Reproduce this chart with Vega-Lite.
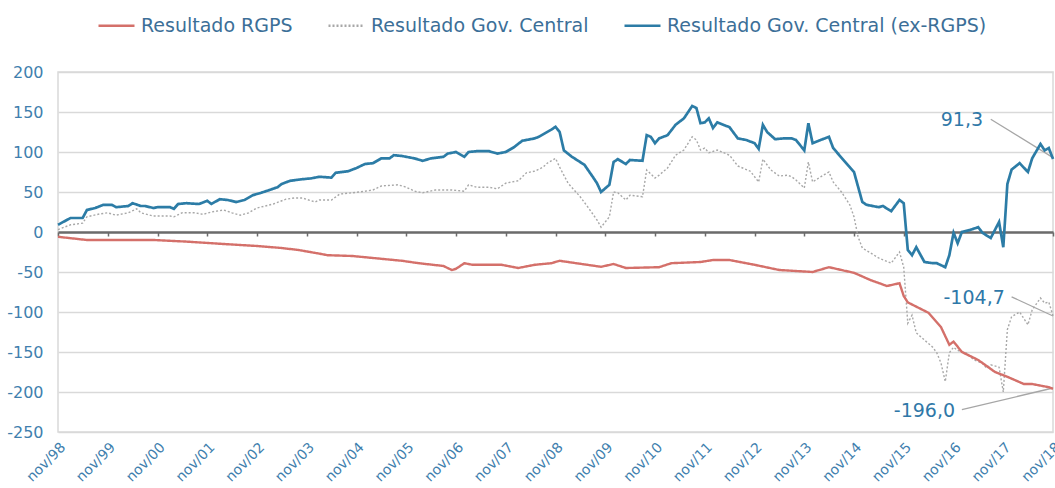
{
  "$schema": "https://vega.github.io/schema/vega-lite/v6.json",
  "width": 995,
  "height": 360,
  "autosize": {"type": "none"},
  "padding": {"left": 58, "top": 72, "right": 2, "bottom": 56},
  "background": "white",
  "config": {
    "font": "DejaVu Sans",
    "view": {"stroke": "#d9d9d9", "strokeWidth": 1.5},
    "axisY": {"labelFont": "DejaVu Sans", "labelFontSize": 16, "labelColor": "#3f7fae", "gridColor": "#d9d9d9", "gridWidth": 1.5, "domain": false, "ticks": false, "labelPadding": 15, "labelOverlap": false, "labelBound": false, "title": null,
      "labelExpr": "datum.value < 0 ? '-' + abs(datum.value) : '' + datum.value"},
    "legend": {"labelFont": "DejaVu Sans", "symbolStrokeWidth": 2.6}
  },
  "datasets": {
    "series": [
      {"d":"1998-11-01","s":"Resultado Gov. Central (ex-RGPS)","v":9},
      {"d":"1999-02-01","s":"Resultado Gov. Central (ex-RGPS)","v":17.5},
      {"d":"1999-05-01","s":"Resultado Gov. Central (ex-RGPS)","v":17.5},
      {"d":"1999-06-01","s":"Resultado Gov. Central (ex-RGPS)","v":27.5},
      {"d":"1999-08-01","s":"Resultado Gov. Central (ex-RGPS)","v":30},
      {"d":"1999-10-01","s":"Resultado Gov. Central (ex-RGPS)","v":34},
      {"d":"1999-12-01","s":"Resultado Gov. Central (ex-RGPS)","v":34},
      {"d":"2000-01-01","s":"Resultado Gov. Central (ex-RGPS)","v":31},
      {"d":"2000-04-01","s":"Resultado Gov. Central (ex-RGPS)","v":32.5},
      {"d":"2000-05-01","s":"Resultado Gov. Central (ex-RGPS)","v":36},
      {"d":"2000-07-01","s":"Resultado Gov. Central (ex-RGPS)","v":32.5},
      {"d":"2000-08-01","s":"Resultado Gov. Central (ex-RGPS)","v":32.5},
      {"d":"2000-10-01","s":"Resultado Gov. Central (ex-RGPS)","v":30},
      {"d":"2000-11-01","s":"Resultado Gov. Central (ex-RGPS)","v":31},
      {"d":"2001-02-01","s":"Resultado Gov. Central (ex-RGPS)","v":31},
      {"d":"2001-03-01","s":"Resultado Gov. Central (ex-RGPS)","v":29},
      {"d":"2001-04-01","s":"Resultado Gov. Central (ex-RGPS)","v":35},
      {"d":"2001-06-01","s":"Resultado Gov. Central (ex-RGPS)","v":36},
      {"d":"2001-09-01","s":"Resultado Gov. Central (ex-RGPS)","v":35},
      {"d":"2001-11-01","s":"Resultado Gov. Central (ex-RGPS)","v":39},
      {"d":"2001-12-01","s":"Resultado Gov. Central (ex-RGPS)","v":35},
      {"d":"2002-02-01","s":"Resultado Gov. Central (ex-RGPS)","v":41},
      {"d":"2002-04-01","s":"Resultado Gov. Central (ex-RGPS)","v":40},
      {"d":"2002-06-01","s":"Resultado Gov. Central (ex-RGPS)","v":37.5},
      {"d":"2002-08-01","s":"Resultado Gov. Central (ex-RGPS)","v":40},
      {"d":"2002-10-01","s":"Resultado Gov. Central (ex-RGPS)","v":46},
      {"d":"2002-12-01","s":"Resultado Gov. Central (ex-RGPS)","v":49},
      {"d":"2003-02-01","s":"Resultado Gov. Central (ex-RGPS)","v":52.5},
      {"d":"2003-04-01","s":"Resultado Gov. Central (ex-RGPS)","v":56},
      {"d":"2003-05-01","s":"Resultado Gov. Central (ex-RGPS)","v":60},
      {"d":"2003-07-01","s":"Resultado Gov. Central (ex-RGPS)","v":64},
      {"d":"2003-10-01","s":"Resultado Gov. Central (ex-RGPS)","v":66},
      {"d":"2003-12-01","s":"Resultado Gov. Central (ex-RGPS)","v":67},
      {"d":"2004-02-01","s":"Resultado Gov. Central (ex-RGPS)","v":69},
      {"d":"2004-05-01","s":"Resultado Gov. Central (ex-RGPS)","v":68},
      {"d":"2004-06-01","s":"Resultado Gov. Central (ex-RGPS)","v":74},
      {"d":"2004-09-01","s":"Resultado Gov. Central (ex-RGPS)","v":76},
      {"d":"2004-11-01","s":"Resultado Gov. Central (ex-RGPS)","v":80},
      {"d":"2005-01-01","s":"Resultado Gov. Central (ex-RGPS)","v":85},
      {"d":"2005-03-01","s":"Resultado Gov. Central (ex-RGPS)","v":86},
      {"d":"2005-05-01","s":"Resultado Gov. Central (ex-RGPS)","v":92},
      {"d":"2005-07-01","s":"Resultado Gov. Central (ex-RGPS)","v":92},
      {"d":"2005-08-01","s":"Resultado Gov. Central (ex-RGPS)","v":96},
      {"d":"2005-10-01","s":"Resultado Gov. Central (ex-RGPS)","v":95},
      {"d":"2006-01-01","s":"Resultado Gov. Central (ex-RGPS)","v":92},
      {"d":"2006-03-01","s":"Resultado Gov. Central (ex-RGPS)","v":89},
      {"d":"2006-05-01","s":"Resultado Gov. Central (ex-RGPS)","v":92},
      {"d":"2006-08-01","s":"Resultado Gov. Central (ex-RGPS)","v":94},
      {"d":"2006-09-01","s":"Resultado Gov. Central (ex-RGPS)","v":98},
      {"d":"2006-11-01","s":"Resultado Gov. Central (ex-RGPS)","v":100},
      {"d":"2007-01-01","s":"Resultado Gov. Central (ex-RGPS)","v":94},
      {"d":"2007-02-01","s":"Resultado Gov. Central (ex-RGPS)","v":100},
      {"d":"2007-04-01","s":"Resultado Gov. Central (ex-RGPS)","v":101},
      {"d":"2007-07-01","s":"Resultado Gov. Central (ex-RGPS)","v":101},
      {"d":"2007-09-01","s":"Resultado Gov. Central (ex-RGPS)","v":98},
      {"d":"2007-11-01","s":"Resultado Gov. Central (ex-RGPS)","v":100},
      {"d":"2008-01-01","s":"Resultado Gov. Central (ex-RGPS)","v":106},
      {"d":"2008-03-01","s":"Resultado Gov. Central (ex-RGPS)","v":114},
      {"d":"2008-06-01","s":"Resultado Gov. Central (ex-RGPS)","v":117},
      {"d":"2008-07-01","s":"Resultado Gov. Central (ex-RGPS)","v":119},
      {"d":"2008-10-01","s":"Resultado Gov. Central (ex-RGPS)","v":128},
      {"d":"2008-11-01","s":"Resultado Gov. Central (ex-RGPS)","v":131.5},
      {"d":"2008-12-01","s":"Resultado Gov. Central (ex-RGPS)","v":125},
      {"d":"2009-01-01","s":"Resultado Gov. Central (ex-RGPS)","v":102},
      {"d":"2009-03-01","s":"Resultado Gov. Central (ex-RGPS)","v":94},
      {"d":"2009-06-01","s":"Resultado Gov. Central (ex-RGPS)","v":84},
      {"d":"2009-08-01","s":"Resultado Gov. Central (ex-RGPS)","v":69},
      {"d":"2009-09-01","s":"Resultado Gov. Central (ex-RGPS)","v":61},
      {"d":"2009-10-01","s":"Resultado Gov. Central (ex-RGPS)","v":50},
      {"d":"2009-12-01","s":"Resultado Gov. Central (ex-RGPS)","v":59},
      {"d":"2010-01-01","s":"Resultado Gov. Central (ex-RGPS)","v":87.5},
      {"d":"2010-02-01","s":"Resultado Gov. Central (ex-RGPS)","v":91},
      {"d":"2010-04-01","s":"Resultado Gov. Central (ex-RGPS)","v":85},
      {"d":"2010-05-01","s":"Resultado Gov. Central (ex-RGPS)","v":90},
      {"d":"2010-08-01","s":"Resultado Gov. Central (ex-RGPS)","v":89},
      {"d":"2010-09-01","s":"Resultado Gov. Central (ex-RGPS)","v":121},
      {"d":"2010-10-01","s":"Resultado Gov. Central (ex-RGPS)","v":119},
      {"d":"2010-11-01","s":"Resultado Gov. Central (ex-RGPS)","v":111},
      {"d":"2010-12-01","s":"Resultado Gov. Central (ex-RGPS)","v":117},
      {"d":"2011-02-01","s":"Resultado Gov. Central (ex-RGPS)","v":121},
      {"d":"2011-04-01","s":"Resultado Gov. Central (ex-RGPS)","v":134},
      {"d":"2011-06-01","s":"Resultado Gov. Central (ex-RGPS)","v":142},
      {"d":"2011-08-01","s":"Resultado Gov. Central (ex-RGPS)","v":157.5},
      {"d":"2011-09-01","s":"Resultado Gov. Central (ex-RGPS)","v":155},
      {"d":"2011-10-01","s":"Resultado Gov. Central (ex-RGPS)","v":136},
      {"d":"2011-11-01","s":"Resultado Gov. Central (ex-RGPS)","v":137},
      {"d":"2011-12-01","s":"Resultado Gov. Central (ex-RGPS)","v":142},
      {"d":"2012-01-01","s":"Resultado Gov. Central (ex-RGPS)","v":130},
      {"d":"2012-02-01","s":"Resultado Gov. Central (ex-RGPS)","v":137},
      {"d":"2012-05-01","s":"Resultado Gov. Central (ex-RGPS)","v":131},
      {"d":"2012-07-01","s":"Resultado Gov. Central (ex-RGPS)","v":117},
      {"d":"2012-09-01","s":"Resultado Gov. Central (ex-RGPS)","v":115},
      {"d":"2012-11-01","s":"Resultado Gov. Central (ex-RGPS)","v":111},
      {"d":"2012-12-01","s":"Resultado Gov. Central (ex-RGPS)","v":104},
      {"d":"2013-01-01","s":"Resultado Gov. Central (ex-RGPS)","v":134},
      {"d":"2013-02-01","s":"Resultado Gov. Central (ex-RGPS)","v":125},
      {"d":"2013-04-01","s":"Resultado Gov. Central (ex-RGPS)","v":116},
      {"d":"2013-06-01","s":"Resultado Gov. Central (ex-RGPS)","v":117},
      {"d":"2013-08-01","s":"Resultado Gov. Central (ex-RGPS)","v":117},
      {"d":"2013-09-01","s":"Resultado Gov. Central (ex-RGPS)","v":115},
      {"d":"2013-11-01","s":"Resultado Gov. Central (ex-RGPS)","v":102},
      {"d":"2013-12-01","s":"Resultado Gov. Central (ex-RGPS)","v":136},
      {"d":"2014-01-01","s":"Resultado Gov. Central (ex-RGPS)","v":111},
      {"d":"2014-03-01","s":"Resultado Gov. Central (ex-RGPS)","v":115},
      {"d":"2014-05-01","s":"Resultado Gov. Central (ex-RGPS)","v":119},
      {"d":"2014-06-01","s":"Resultado Gov. Central (ex-RGPS)","v":105},
      {"d":"2014-07-01","s":"Resultado Gov. Central (ex-RGPS)","v":99},
      {"d":"2014-10-01","s":"Resultado Gov. Central (ex-RGPS)","v":81},
      {"d":"2014-11-01","s":"Resultado Gov. Central (ex-RGPS)","v":75},
      {"d":"2015-01-01","s":"Resultado Gov. Central (ex-RGPS)","v":37.5},
      {"d":"2015-02-01","s":"Resultado Gov. Central (ex-RGPS)","v":34},
      {"d":"2015-05-01","s":"Resultado Gov. Central (ex-RGPS)","v":31},
      {"d":"2015-06-01","s":"Resultado Gov. Central (ex-RGPS)","v":32.5},
      {"d":"2015-08-01","s":"Resultado Gov. Central (ex-RGPS)","v":26},
      {"d":"2015-10-01","s":"Resultado Gov. Central (ex-RGPS)","v":40},
      {"d":"2015-11-01","s":"Resultado Gov. Central (ex-RGPS)","v":36},
      {"d":"2015-12-01","s":"Resultado Gov. Central (ex-RGPS)","v":-22.5},
      {"d":"2016-01-01","s":"Resultado Gov. Central (ex-RGPS)","v":-29},
      {"d":"2016-02-01","s":"Resultado Gov. Central (ex-RGPS)","v":-19},
      {"d":"2016-04-01","s":"Resultado Gov. Central (ex-RGPS)","v":-37.5},
      {"d":"2016-06-01","s":"Resultado Gov. Central (ex-RGPS)","v":-39},
      {"d":"2016-07-01","s":"Resultado Gov. Central (ex-RGPS)","v":-39},
      {"d":"2016-09-01","s":"Resultado Gov. Central (ex-RGPS)","v":-44},
      {"d":"2016-10-01","s":"Resultado Gov. Central (ex-RGPS)","v":-29},
      {"d":"2016-11-01","s":"Resultado Gov. Central (ex-RGPS)","v":-1},
      {"d":"2016-12-01","s":"Resultado Gov. Central (ex-RGPS)","v":-14},
      {"d":"2017-01-01","s":"Resultado Gov. Central (ex-RGPS)","v":0},
      {"d":"2017-03-01","s":"Resultado Gov. Central (ex-RGPS)","v":2.5},
      {"d":"2017-05-01","s":"Resultado Gov. Central (ex-RGPS)","v":6},
      {"d":"2017-06-01","s":"Resultado Gov. Central (ex-RGPS)","v":-1},
      {"d":"2017-08-01","s":"Resultado Gov. Central (ex-RGPS)","v":-7.5},
      {"d":"2017-10-01","s":"Resultado Gov. Central (ex-RGPS)","v":12.5},
      {"d":"2017-11-01","s":"Resultado Gov. Central (ex-RGPS)","v":-19},
      {"d":"2017-12-01","s":"Resultado Gov. Central (ex-RGPS)","v":60},
      {"d":"2018-01-01","s":"Resultado Gov. Central (ex-RGPS)","v":78},
      {"d":"2018-03-01","s":"Resultado Gov. Central (ex-RGPS)","v":86},
      {"d":"2018-05-01","s":"Resultado Gov. Central (ex-RGPS)","v":75},
      {"d":"2018-06-01","s":"Resultado Gov. Central (ex-RGPS)","v":92},
      {"d":"2018-08-01","s":"Resultado Gov. Central (ex-RGPS)","v":110},
      {"d":"2018-09-01","s":"Resultado Gov. Central (ex-RGPS)","v":102},
      {"d":"2018-10-01","s":"Resultado Gov. Central (ex-RGPS)","v":105},
      {"d":"2018-11-01","s":"Resultado Gov. Central (ex-RGPS)","v":91.3},

      {"d":"1998-11-01","s":"Resultado Gov. Central","v":3},
      {"d":"1999-02-01","s":"Resultado Gov. Central","v":9},
      {"d":"1999-05-01","s":"Resultado Gov. Central","v":11},
      {"d":"1999-06-01","s":"Resultado Gov. Central","v":19},
      {"d":"1999-09-01","s":"Resultado Gov. Central","v":22.5},
      {"d":"1999-11-01","s":"Resultado Gov. Central","v":24},
      {"d":"2000-01-01","s":"Resultado Gov. Central","v":21},
      {"d":"2000-04-01","s":"Resultado Gov. Central","v":24},
      {"d":"2000-06-01","s":"Resultado Gov. Central","v":29},
      {"d":"2000-07-01","s":"Resultado Gov. Central","v":24},
      {"d":"2000-10-01","s":"Resultado Gov. Central","v":20},
      {"d":"2001-02-01","s":"Resultado Gov. Central","v":20},
      {"d":"2001-03-01","s":"Resultado Gov. Central","v":19},
      {"d":"2001-05-01","s":"Resultado Gov. Central","v":24},
      {"d":"2001-08-01","s":"Resultado Gov. Central","v":24},
      {"d":"2001-10-01","s":"Resultado Gov. Central","v":22},
      {"d":"2001-12-01","s":"Resultado Gov. Central","v":25},
      {"d":"2002-03-01","s":"Resultado Gov. Central","v":27.5},
      {"d":"2002-05-01","s":"Resultado Gov. Central","v":24},
      {"d":"2002-07-01","s":"Resultado Gov. Central","v":21},
      {"d":"2002-09-01","s":"Resultado Gov. Central","v":24},
      {"d":"2002-11-01","s":"Resultado Gov. Central","v":30},
      {"d":"2003-01-01","s":"Resultado Gov. Central","v":32.5},
      {"d":"2003-03-01","s":"Resultado Gov. Central","v":35},
      {"d":"2003-06-01","s":"Resultado Gov. Central","v":41},
      {"d":"2003-08-01","s":"Resultado Gov. Central","v":42.5},
      {"d":"2003-10-01","s":"Resultado Gov. Central","v":42.5},
      {"d":"2004-01-01","s":"Resultado Gov. Central","v":37.5},
      {"d":"2004-02-01","s":"Resultado Gov. Central","v":40},
      {"d":"2004-05-01","s":"Resultado Gov. Central","v":40},
      {"d":"2004-07-01","s":"Resultado Gov. Central","v":47.5},
      {"d":"2004-10-01","s":"Resultado Gov. Central","v":49},
      {"d":"2005-01-01","s":"Resultado Gov. Central","v":51},
      {"d":"2005-03-01","s":"Resultado Gov. Central","v":52.5},
      {"d":"2005-05-01","s":"Resultado Gov. Central","v":57.5},
      {"d":"2005-09-01","s":"Resultado Gov. Central","v":59},
      {"d":"2005-11-01","s":"Resultado Gov. Central","v":56},
      {"d":"2006-01-01","s":"Resultado Gov. Central","v":51},
      {"d":"2006-03-01","s":"Resultado Gov. Central","v":49},
      {"d":"2006-06-01","s":"Resultado Gov. Central","v":52.5},
      {"d":"2006-10-01","s":"Resultado Gov. Central","v":52.5},
      {"d":"2007-01-01","s":"Resultado Gov. Central","v":51},
      {"d":"2007-02-01","s":"Resultado Gov. Central","v":59},
      {"d":"2007-04-01","s":"Resultado Gov. Central","v":56},
      {"d":"2007-07-01","s":"Resultado Gov. Central","v":56},
      {"d":"2007-09-01","s":"Resultado Gov. Central","v":54},
      {"d":"2007-11-01","s":"Resultado Gov. Central","v":61},
      {"d":"2008-02-01","s":"Resultado Gov. Central","v":64},
      {"d":"2008-04-01","s":"Resultado Gov. Central","v":74},
      {"d":"2008-06-01","s":"Resultado Gov. Central","v":76},
      {"d":"2008-08-01","s":"Resultado Gov. Central","v":81},
      {"d":"2008-09-01","s":"Resultado Gov. Central","v":86},
      {"d":"2008-11-01","s":"Resultado Gov. Central","v":92},
      {"d":"2008-12-01","s":"Resultado Gov. Central","v":81},
      {"d":"2009-02-01","s":"Resultado Gov. Central","v":61},
      {"d":"2009-05-01","s":"Resultado Gov. Central","v":44},
      {"d":"2009-07-01","s":"Resultado Gov. Central","v":30},
      {"d":"2009-09-01","s":"Resultado Gov. Central","v":15},
      {"d":"2009-10-01","s":"Resultado Gov. Central","v":6},
      {"d":"2009-12-01","s":"Resultado Gov. Central","v":19},
      {"d":"2010-01-01","s":"Resultado Gov. Central","v":50},
      {"d":"2010-02-01","s":"Resultado Gov. Central","v":49},
      {"d":"2010-04-01","s":"Resultado Gov. Central","v":40},
      {"d":"2010-05-01","s":"Resultado Gov. Central","v":46},
      {"d":"2010-08-01","s":"Resultado Gov. Central","v":44},
      {"d":"2010-09-01","s":"Resultado Gov. Central","v":77.5},
      {"d":"2010-11-01","s":"Resultado Gov. Central","v":67.5},
      {"d":"2010-12-01","s":"Resultado Gov. Central","v":71},
      {"d":"2011-02-01","s":"Resultado Gov. Central","v":80},
      {"d":"2011-04-01","s":"Resultado Gov. Central","v":96},
      {"d":"2011-06-01","s":"Resultado Gov. Central","v":102.5},
      {"d":"2011-08-01","s":"Resultado Gov. Central","v":119},
      {"d":"2011-09-01","s":"Resultado Gov. Central","v":115},
      {"d":"2011-10-01","s":"Resultado Gov. Central","v":102.5},
      {"d":"2011-11-01","s":"Resultado Gov. Central","v":105},
      {"d":"2011-12-01","s":"Resultado Gov. Central","v":99},
      {"d":"2012-02-01","s":"Resultado Gov. Central","v":102.5},
      {"d":"2012-05-01","s":"Resultado Gov. Central","v":96},
      {"d":"2012-07-01","s":"Resultado Gov. Central","v":82.5},
      {"d":"2012-10-01","s":"Resultado Gov. Central","v":76},
      {"d":"2012-12-01","s":"Resultado Gov. Central","v":62.5},
      {"d":"2013-01-01","s":"Resultado Gov. Central","v":91},
      {"d":"2013-03-01","s":"Resultado Gov. Central","v":77.5},
      {"d":"2013-05-01","s":"Resultado Gov. Central","v":70},
      {"d":"2013-07-01","s":"Resultado Gov. Central","v":71},
      {"d":"2013-08-01","s":"Resultado Gov. Central","v":69},
      {"d":"2013-09-01","s":"Resultado Gov. Central","v":65},
      {"d":"2013-11-01","s":"Resultado Gov. Central","v":55},
      {"d":"2013-12-01","s":"Resultado Gov. Central","v":87.5},
      {"d":"2014-01-01","s":"Resultado Gov. Central","v":62.5},
      {"d":"2014-03-01","s":"Resultado Gov. Central","v":69},
      {"d":"2014-05-01","s":"Resultado Gov. Central","v":75},
      {"d":"2014-06-01","s":"Resultado Gov. Central","v":62.5},
      {"d":"2014-08-01","s":"Resultado Gov. Central","v":50},
      {"d":"2014-10-01","s":"Resultado Gov. Central","v":34},
      {"d":"2014-11-01","s":"Resultado Gov. Central","v":19},
      {"d":"2014-12-01","s":"Resultado Gov. Central","v":-6},
      {"d":"2015-01-01","s":"Resultado Gov. Central","v":-20},
      {"d":"2015-03-01","s":"Resultado Gov. Central","v":-26},
      {"d":"2015-05-01","s":"Resultado Gov. Central","v":-32.5},
      {"d":"2015-08-01","s":"Resultado Gov. Central","v":-39},
      {"d":"2015-10-01","s":"Resultado Gov. Central","v":-25},
      {"d":"2015-11-01","s":"Resultado Gov. Central","v":-44},
      {"d":"2015-12-01","s":"Resultado Gov. Central","v":-114},
      {"d":"2016-01-01","s":"Resultado Gov. Central","v":-104},
      {"d":"2016-02-01","s":"Resultado Gov. Central","v":-126},
      {"d":"2016-04-01","s":"Resultado Gov. Central","v":-135},
      {"d":"2016-06-01","s":"Resultado Gov. Central","v":-144},
      {"d":"2016-07-01","s":"Resultado Gov. Central","v":-151},
      {"d":"2016-08-01","s":"Resultado Gov. Central","v":-164},
      {"d":"2016-09-01","s":"Resultado Gov. Central","v":-187},
      {"d":"2016-10-01","s":"Resultado Gov. Central","v":-151},
      {"d":"2016-11-01","s":"Resultado Gov. Central","v":-144},
      {"d":"2016-12-01","s":"Resultado Gov. Central","v":-148},
      {"d":"2017-02-01","s":"Resultado Gov. Central","v":-151},
      {"d":"2017-04-01","s":"Resultado Gov. Central","v":-160},
      {"d":"2017-06-01","s":"Resultado Gov. Central","v":-164},
      {"d":"2017-07-01","s":"Resultado Gov. Central","v":-170},
      {"d":"2017-08-01","s":"Resultado Gov. Central","v":-166},
      {"d":"2017-10-01","s":"Resultado Gov. Central","v":-169},
      {"d":"2017-11-01","s":"Resultado Gov. Central","v":-200},
      {"d":"2017-12-01","s":"Resultado Gov. Central","v":-122},
      {"d":"2018-01-01","s":"Resultado Gov. Central","v":-106},
      {"d":"2018-03-01","s":"Resultado Gov. Central","v":-100},
      {"d":"2018-05-01","s":"Resultado Gov. Central","v":-116},
      {"d":"2018-06-01","s":"Resultado Gov. Central","v":-97.5},
      {"d":"2018-08-01","s":"Resultado Gov. Central","v":-82.5},
      {"d":"2018-09-01","s":"Resultado Gov. Central","v":-89},
      {"d":"2018-10-01","s":"Resultado Gov. Central","v":-87.5},
      {"d":"2018-11-01","s":"Resultado Gov. Central","v":-104.7},

      {"d":"1998-11-01","s":"Resultado RGPS","v":-6},
      {"d":"1999-06-01","s":"Resultado RGPS","v":-10},
      {"d":"2000-10-01","s":"Resultado RGPS","v":-10},
      {"d":"2001-06-01","s":"Resultado RGPS","v":-12},
      {"d":"2002-03-01","s":"Resultado RGPS","v":-15},
      {"d":"2002-11-01","s":"Resultado RGPS","v":-17.5},
      {"d":"2003-05-01","s":"Resultado RGPS","v":-20},
      {"d":"2003-09-01","s":"Resultado RGPS","v":-22.5},
      {"d":"2004-02-01","s":"Resultado RGPS","v":-27},
      {"d":"2004-04-01","s":"Resultado RGPS","v":-29},
      {"d":"2004-10-01","s":"Resultado RGPS","v":-30},
      {"d":"2005-04-01","s":"Resultado RGPS","v":-33},
      {"d":"2005-10-01","s":"Resultado RGPS","v":-36},
      {"d":"2006-02-01","s":"Resultado RGPS","v":-39},
      {"d":"2006-08-01","s":"Resultado RGPS","v":-42.5},
      {"d":"2006-10-01","s":"Resultado RGPS","v":-47.5},
      {"d":"2006-11-01","s":"Resultado RGPS","v":-46},
      {"d":"2007-01-01","s":"Resultado RGPS","v":-39},
      {"d":"2007-03-01","s":"Resultado RGPS","v":-41},
      {"d":"2007-10-01","s":"Resultado RGPS","v":-41},
      {"d":"2008-02-01","s":"Resultado RGPS","v":-45},
      {"d":"2008-06-01","s":"Resultado RGPS","v":-41},
      {"d":"2008-10-01","s":"Resultado RGPS","v":-39},
      {"d":"2008-12-01","s":"Resultado RGPS","v":-36},
      {"d":"2009-10-01","s":"Resultado RGPS","v":-43.5},
      {"d":"2010-01-01","s":"Resultado RGPS","v":-40},
      {"d":"2010-04-01","s":"Resultado RGPS","v":-45},
      {"d":"2010-12-01","s":"Resultado RGPS","v":-44},
      {"d":"2011-03-01","s":"Resultado RGPS","v":-39},
      {"d":"2011-10-01","s":"Resultado RGPS","v":-37.5},
      {"d":"2012-01-01","s":"Resultado RGPS","v":-35},
      {"d":"2012-05-01","s":"Resultado RGPS","v":-35},
      {"d":"2012-11-01","s":"Resultado RGPS","v":-41},
      {"d":"2013-05-01","s":"Resultado RGPS","v":-47.5},
      {"d":"2014-01-01","s":"Resultado RGPS","v":-50},
      {"d":"2014-05-01","s":"Resultado RGPS","v":-44},
      {"d":"2014-11-01","s":"Resultado RGPS","v":-51},
      {"d":"2015-03-01","s":"Resultado RGPS","v":-60},
      {"d":"2015-07-01","s":"Resultado RGPS","v":-67.5},
      {"d":"2015-10-01","s":"Resultado RGPS","v":-64},
      {"d":"2015-11-01","s":"Resultado RGPS","v":-80},
      {"d":"2015-12-01","s":"Resultado RGPS","v":-88},
      {"d":"2016-05-01","s":"Resultado RGPS","v":-101},
      {"d":"2016-08-01","s":"Resultado RGPS","v":-119},
      {"d":"2016-10-01","s":"Resultado RGPS","v":-141},
      {"d":"2016-11-01","s":"Resultado RGPS","v":-137},
      {"d":"2017-01-01","s":"Resultado RGPS","v":-150},
      {"d":"2017-05-01","s":"Resultado RGPS","v":-160},
      {"d":"2017-09-01","s":"Resultado RGPS","v":-175},
      {"d":"2017-12-01","s":"Resultado RGPS","v":-181},
      {"d":"2018-04-01","s":"Resultado RGPS","v":-190},
      {"d":"2018-06-01","s":"Resultado RGPS","v":-190},
      {"d":"2018-10-01","s":"Resultado RGPS","v":-194},
      {"d":"2018-11-01","s":"Resultado RGPS","v":-196}
    ],
    "labels": [
      {"d":"2017-01-01","v":140,"t":"91,3"},
      {"d":"2017-04-01","v":-82,"t":"-104,7"},
      {"d":"2016-04-01","v":-224,"t":"-196,0"}
    ],
    "leaders": [
      {"d1":"2017-08-01","v1":141,"d2":"2018-11-01","v2":93},
      {"d1":"2018-01-01","v1":-81,"d2":"2018-11-01","v2":-105},
      {"d1":"2017-01-01","v1":-222,"d2":"2018-11-01","v2":-195}
    ]
  },
  "resolve": {"axis": {"x": "independent"}},
  "layer": [
    {
      "data": {"name": "labels"},
      "mark": {"type": "text", "fontSize": 19, "font": "DejaVu Sans", "color": "#2f78a8", "align": "center", "baseline": "middle"},
      "encoding": {
        "x": {"field": "d", "type": "temporal",
          "scale": {"type": "utc", "domain": [{"year": 1998, "month": 11, "date": 1, "utc": true}, {"year": 2018, "month": 11, "date": 1, "utc": true}]},
          "axis": {"orient": "bottom", "offset": -200, "labels": false, "grid": false, "title": null,
            "domain": true, "domainColor": "#6b6b6b", "domainWidth": 2.5,
            "ticks": true, "tickColor": "#6b6b6b", "tickWidth": 1.5, "tickSize": 4,
            "values": [
              {"year":1998,"month":11,"date":1,"utc":true},{"year":1999,"month":11,"date":1,"utc":true},{"year":2000,"month":11,"date":1,"utc":true},{"year":2001,"month":11,"date":1,"utc":true},{"year":2002,"month":11,"date":1,"utc":true},{"year":2003,"month":11,"date":1,"utc":true},{"year":2004,"month":11,"date":1,"utc":true},{"year":2005,"month":11,"date":1,"utc":true},{"year":2006,"month":11,"date":1,"utc":true},{"year":2007,"month":11,"date":1,"utc":true},{"year":2008,"month":11,"date":1,"utc":true},{"year":2009,"month":11,"date":1,"utc":true},{"year":2010,"month":11,"date":1,"utc":true},{"year":2011,"month":11,"date":1,"utc":true},{"year":2012,"month":11,"date":1,"utc":true},{"year":2013,"month":11,"date":1,"utc":true},{"year":2014,"month":11,"date":1,"utc":true},{"year":2015,"month":11,"date":1,"utc":true},{"year":2016,"month":11,"date":1,"utc":true},{"year":2017,"month":11,"date":1,"utc":true},{"year":2018,"month":11,"date":1,"utc":true}
            ]}},
        "y": {"field": "v", "type": "quantitative",
          "scale": {"domain": [-250, 200], "nice": false, "zero": false},
          "axis": {"values": [-250, -200, -150, -100, -50, 0, 50, 100, 150, 200], "grid": true, "labelOverlap": false, "tickCount": 10}},
        "text": {"field": "t", "type": "nominal"}
      }
    },
    {
      "data": {"name": "leaders"},
      "mark": {"type": "rule", "color": "#a6a6a6", "strokeWidth": 1.3},
      "encoding": {
        "x": {"field": "d1", "type": "temporal", "axis": null},
        "x2": {"field": "d2"},
        "y": {"field": "v1", "type": "quantitative",
          "axis": {"values": [-250, -200, -150, -100, -50, 0, 50, 100, 150, 200], "grid": true, "labelOverlap": false, "tickCount": 10}},
        "y2": {"field": "v2"}
      }
    },
    {
      "data": {"name": "series"},
      "transform": [{"filter": "datum.s === 'Resultado Gov. Central'"}],
      "mark": {"type": "line", "strokeWidth": 1.4},
      "encoding": {
        "x": {"field": "d", "type": "temporal", "axis": null},
        "y": {"field": "v", "type": "quantitative",
          "axis": {"values": [-250, -200, -150, -100, -50, 0, 50, 100, 150, 200], "grid": true, "labelOverlap": false, "tickCount": 10}},
        "color": {"field": "s", "type": "nominal"},
        "strokeDash": {"field": "s", "type": "nominal"}
      }
    },
    {
      "data": {"name": "series"},
      "transform": [{"filter": "datum.s === 'Resultado RGPS'"}],
      "mark": {"type": "line", "strokeWidth": 2.4},
      "encoding": {
        "x": {"field": "d", "type": "temporal", "axis": null},
        "y": {"field": "v", "type": "quantitative",
          "axis": {"values": [-250, -200, -150, -100, -50, 0, 50, 100, 150, 200], "grid": true, "labelOverlap": false, "tickCount": 10}},
        "color": {"field": "s", "type": "nominal"},
        "strokeDash": {"field": "s", "type": "nominal"}
      }
    },
    {
      "data": {"name": "series"},
      "transform": [{"filter": "datum.s === 'Resultado Gov. Central (ex-RGPS)'"}],
      "mark": {"type": "line", "strokeWidth": 2.7},
      "encoding": {
        "x": {"field": "d", "type": "temporal",
          "axis": {"orient": "bottom", "title": null, "grid": false, "domain": false, "ticks": false,
            "labelAngle": -45, "labelAlign": "right", "labelBaseline": "top", "labelPadding": 8,
            "labelFont": "DejaVu Sans", "labelFontSize": 14, "labelColor": "#3f7fae",
            "labelExpr": "'nov/' + utcFormat(datum.value, '%y')",
            "values": [
              {"year":1998,"month":11,"date":1,"utc":true},{"year":1999,"month":11,"date":1,"utc":true},{"year":2000,"month":11,"date":1,"utc":true},{"year":2001,"month":11,"date":1,"utc":true},{"year":2002,"month":11,"date":1,"utc":true},{"year":2003,"month":11,"date":1,"utc":true},{"year":2004,"month":11,"date":1,"utc":true},{"year":2005,"month":11,"date":1,"utc":true},{"year":2006,"month":11,"date":1,"utc":true},{"year":2007,"month":11,"date":1,"utc":true},{"year":2008,"month":11,"date":1,"utc":true},{"year":2009,"month":11,"date":1,"utc":true},{"year":2010,"month":11,"date":1,"utc":true},{"year":2011,"month":11,"date":1,"utc":true},{"year":2012,"month":11,"date":1,"utc":true},{"year":2013,"month":11,"date":1,"utc":true},{"year":2014,"month":11,"date":1,"utc":true},{"year":2015,"month":11,"date":1,"utc":true},{"year":2016,"month":11,"date":1,"utc":true},{"year":2017,"month":11,"date":1,"utc":true},{"year":2018,"month":11,"date":1,"utc":true}
            ]}},
        "y": {"field": "v", "type": "quantitative",
          "axis": {"values": [-250, -200, -150, -100, -50, 0, 50, 100, 150, 200], "grid": true, "labelOverlap": false, "tickCount": 10}},
        "color": {"field": "s", "type": "nominal",
          "scale": {"domain": ["Resultado RGPS", "Resultado Gov. Central", "Resultado Gov. Central (ex-RGPS)"], "range": ["#d4706a", "#a8a8a8", "#2c7ca6"]},
          "legend": {"title": null, "orient": "none", "legendX": 39, "legendY": -66, "direction": "horizontal",
            "labelFontSize": 19, "labelColor": "#3c6f98", "labelLimit": 500, "symbolType": "stroke", "symbolSize": 1296,
            "columnPadding": 30, "labelOffset": 5}},
        "strokeDash": {"field": "s", "type": "nominal",
          "scale": {"domain": ["Resultado RGPS", "Resultado Gov. Central", "Resultado Gov. Central (ex-RGPS)"], "range": [[1, 0], [2, 2], [1, 0]]},
          "legend": null}
      }
    }
  ]
}
